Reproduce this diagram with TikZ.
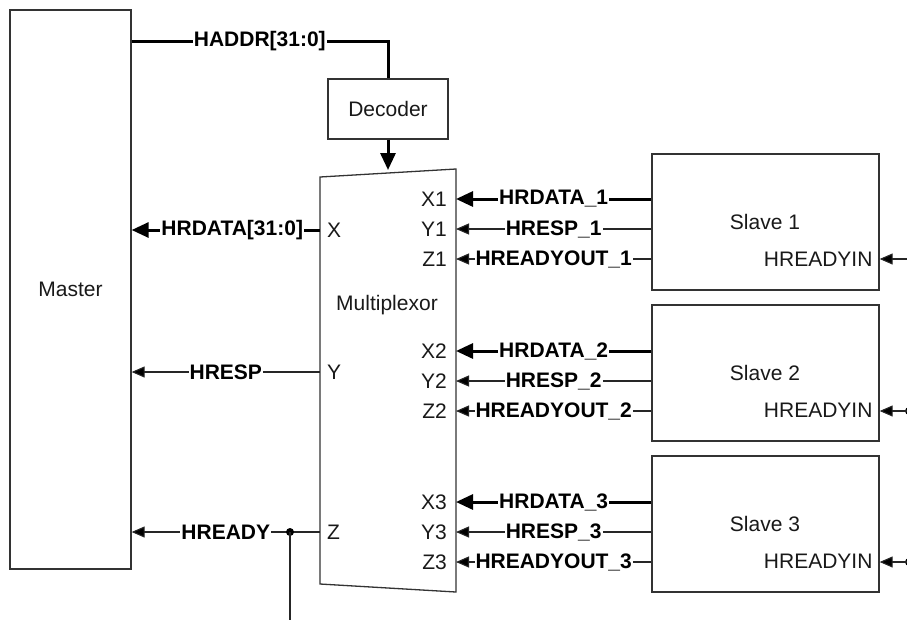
\documentclass[tikz,border=0pt]{standalone}
\usepackage{fontspec}
\setmainfont{Liberation Sans}
\usetikzlibrary{arrows.meta,calc}
\begin{document}
\begin{tikzpicture}[x=1pt,y=-1pt,
  box/.style={draw=black!80,line width=1.3pt,inner sep=0pt,fill=white},
  lbl/.style={font=\fontsize{21}{24}\selectfont\bfseries,fill=white,inner sep=1pt},
  txt/.style={font=\fontsize{21}{24}\selectfont,inner sep=0pt,text=black!90},
  bus/.style={line width=3pt},
  wire/.style={line width=1.1pt,draw=black!85},
  busarrow/.style={bus,-{Triangle[length=17pt,width=15pt]}},
  wirearrow/.style={wire,-{Triangle[length=13pt,width=11pt,fill=black]}},
  junction/.style={circle,fill=black,inner sep=0pt,minimum size=8pt}]
\clip (0,0) rectangle (907,619);
\useasboundingbox (0,0) rectangle (907,619);

% Master
\node[box,minimum width=121pt,minimum height=559pt] (master) at (70.5,289.5) {};
\node[txt] (mastert) at (master.center) {Master};

% Decoder
\node[box,minimum width=120pt,minimum height=60pt] (dec) at (388,109) {};
\node[txt] (dect) at (dec.center) {Decoder};

% Multiplexor trapezoid
\coordinate (mtl) at (320,177);
\coordinate (mtr) at (456,169);
\coordinate (mbr) at (456,592);
\coordinate (mbl) at (320,584);
\draw[draw=black!80,line width=1.3pt,line join=miter] (mtl) -- (mtr) -- (mbr) -- (mbl) -- cycle;
\coordinate (mtop) at (388,170);
\node[txt] (muxt) at (387,305) {Multiplexor};

% mux port coordinates
\foreach \n/\y in {x1/199,y1/229,z1/259,x2/351,y2/381,z2/411,x3/502,y3/532,z3/562}{
  \coordinate (m\n) at (456,\y);
}
\coordinate (mx) at (320,230);
\coordinate (my) at (320,372);
\coordinate (mz) at (320,532);

% port labels
\node[txt,anchor=east] (lx1) at (447,199) {X1};
\node[txt,anchor=east] (ly1) at (447,229) {Y1};
\node[txt,anchor=east] (lz1) at (447,259) {Z1};
\node[txt,anchor=east] (lx2) at (447,351) {X2};
\node[txt,anchor=east] (ly2) at (447,381) {Y2};
\node[txt,anchor=east] (lz2) at (447,411) {Z2};
\node[txt,anchor=east] (lx3) at (447,502) {X3};
\node[txt,anchor=east] (ly3) at (447,532) {Y3};
\node[txt,anchor=east] (lz3) at (447,562) {Z3};
\node[txt,anchor=west] (lx) at (327,230) {X};
\node[txt,anchor=west] (ly) at (327,372) {Y};
\node[txt,anchor=west] (lz) at (327,532) {Z};

% Slaves
\foreach \i/\cy in {1/222,2/373,3/524}{
  \node[box,minimum width=227pt,minimum height=136pt] (s\i) at (765.5,\cy) {};
  \node[txt] (s\i t) at (765,\cy) {Slave \i};
  \node[txt,anchor=east] (s\i r) at ($(s\i.east)+(-7,37)$) {HREADYIN};
}

% HADDR
\draw[bus] (master.east |- 0,41) -- node[lbl,pos=0.5] (haddr) {HADDR[31:0]} (388,41) -- (dec.north);
\draw[busarrow] (dec.south) -- (mtop);

% Left side outputs
\draw[busarrow] (mx) -- node[lbl,pos=0.466] (hrdata) {HRDATA[31:0]} (master.east |- mx);
\draw[wirearrow] (my) -- node[lbl] (hresp) {HRESP} (master.east |- my);
\draw[wirearrow] (mz) -- node[lbl] (hready) {HREADY} (master.east |- mz);
\node[junction] (j) at (290,532) {};
\draw[wire] (j.center) -- (290,625);

% Slave connections
\foreach \i in {1,2,3}{
  \draw[busarrow] (s\i.west |- mx\i) -- node[lbl] {HRDATA\_\i} (mx\i);
  \draw[wirearrow] (s\i.west |- my\i) -- node[lbl] {HRESP\_\i} (my\i);
  \draw[wirearrow] (s\i.west |- mz\i) -- node[lbl] {HREADYOUT\_\i} (mz\i);
}

% HREADYIN inputs
\coordinate (r1) at (912,259);
\node[junction] (r2) at (909,411) {};
\node[junction] (r3) at (909,562) {};
\draw[wirearrow] (r1) -- (s1.east |- r1);
\draw[wirearrow] (r2.center) -- (s2.east |- r2);
\draw[wirearrow] (r3.center) -- (s3.east |- r3);
\end{tikzpicture}
\end{document}
